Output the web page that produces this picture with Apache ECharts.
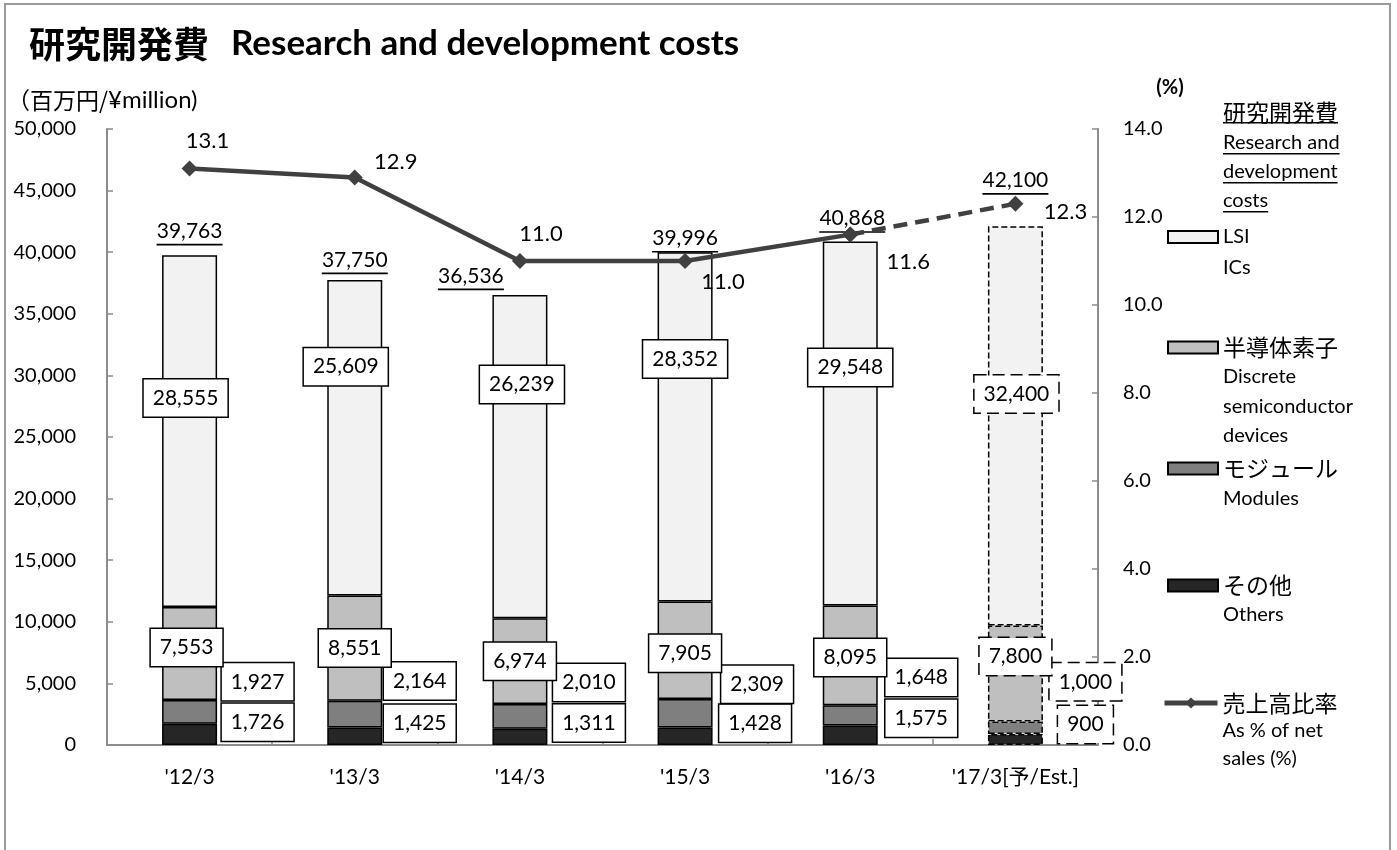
<!DOCTYPE html>
<html><head><meta charset="utf-8">
<script src="https://cdn.jsdelivr.net/npm/echarts@6/dist/echarts.min.js"></script>
<style>html,body{margin:0;padding:0;background:#fff}#c{width:1397px;height:850px}</style>
</head><body><div id="c"></div><script>
// ---- data ----
const categories = ["'12/3", "'13/3", "'14/3", "'15/3", "'16/3", "'17/3[予/Est.]"];
const lsi = [28555, 25609, 26239, 28352, 29548, 32400];
const discrete = [7553, 8551, 6974, 7905, 8095, 7800];
const modules = [1927, 2164, 2010, 2309, 1648, 1000];
const others = [1726, 1425, 1311, 1428, 1575, 900];
const totals = [39763, 37750, 36536, 39996, 40868, 42100];
const ratio = [13.1, 12.9, 11.0, 11.0, 11.6, 12.3];
const leftAxisTicks = { min: 0, max: 50000, interval: 5000 };
const rightAxisTicks = { min: 0, max: 14, interval: 2 };

// ---- styling ----
const LAT = "Lato, 'Noto Sans CJK JP', sans-serif";
const CJK = "'Noto Sans CJK JP', Lato, sans-serif";
const est = categories.length - 1;
const fmt = v => Number(v).toLocaleString('en-US');
const AXIS_COLOR = '#8c8c8c';
const measureCtx = document.createElement('canvas').getContext('2d');
function textWidth(t, font) { measureCtx.font = font; return measureCtx.measureText(t).width; }

function barSeries(name, values, color, offsets) {
  return {
    name: name, type: 'bar', stack: 'rd', barWidth: 55, barGap: '-100%', yAxisIndex: 0, z: 2,
    itemStyle: { color: color, borderColor: '#000', borderWidth: 1.5 },
    label: {
      show: true, position: 'inside', color: '#000', fontFamily: LAT, fontSize: 21,
      backgroundColor: '#fff', borderColor: '#000', borderWidth: 1.5,
      padding: [6, 9, 5, 9], lineHeight: 26, formatter: p => fmt(p.value)
    },
    data: values.map((v, i) => ({
      value: v,
      itemStyle: i === est ? { borderType: 'dashed' } : {},
      label: { offset: offsets[i], borderType: i === est ? 'dashed' : 'solid' }
    }))
  };
}

const lsiOff = [[-4, -33], [-9, -71], [2, -72], [0, -68], [0, -56], [1, -32]];
const discOff = [[-3, -6], [0, 0], [0, 0], [0, 3], [0, 2], [0, -17]];
const modOff = [[68, -30], [65, -33], [69, -34], [72, -29], [71, -38], [70, -46]];
const othOff = [[68, -12], [65, -13], [69, -14], [70, -13], [71, -17], [70, -15]];
const totOff = [[0, 0], [0, 4], [-49, 5], [0, 10], [2, 1], [0, -22]];
const ratioOff = [[18, -28], [41, -15], [21, -27], [38, 21], [58, 27], [50, 8]];

const solidRatio = ratio.map((v, i) => i < est ? v : null);
const dashedRatio = ratio.map((v, i) => i >= est - 1 ? v : null);

function legendFor(name, lines, yc, isLine, lh) {
  const n = lines.length;
  const l = {
    data: [name], orient: 'vertical', left: isLine ? 1162 : 1167, top: yc - 8 - (n - 2) * 1.5, padding: 0,
    itemWidth: isLine ? 53 : 50, itemHeight: isLine ? 14 : 12, itemGap: 0, selectedMode: false,
    formatter: () => lines.map(t => '{' + (/[^\x00-\x7F]/.test(t) ? 'c' : 'e') + '|' + t + '}').join('\n'),
    textStyle: {
      padding: [(n - 1) * lh, 0, 0, 0],
      rich: {
        c: { fontFamily: CJK, fontSize: 23, lineHeight: lh, color: '#000' },
        e: { fontFamily: LAT, fontSize: 20, lineHeight: lh, color: '#000' }
      }
    }
  };
  if (!isLine) l.icon = 'rect';
  else { l.lineStyle = { width: 5, color: '#404040' }; l.itemStyle = { color: '#404040' }; }
  return l;
}

const headerLines = [
  { t: '研究開発費', y: 112, f: CJK, s: 23 },
  { t: 'Research and', y: 143, f: LAT, s: 20 },
  { t: 'development', y: 172, f: LAT, s: 20 },
  { t: 'costs', y: 201, f: LAT, s: 20 }
];
const headerGraphics = [];
headerLines.forEach(h => {
  const font = h.s + 'px ' + h.f;
  headerGraphics.push({ type: 'text', x: 1223, y: h.y, style: { text: h.t, font: font, fill: '#000', verticalAlign: 'middle', align: 'left' } });
  headerGraphics.push({ type: 'rect', shape: { x: 1223, y: h.y + 10, width: textWidth(h.t, font), height: 1.6 }, style: { fill: '#000' } });
});

const chart = echarts.init(document.getElementById('c'), null, { renderer: 'canvas' });
chart.setOption({
  animation: false,
  backgroundColor: '#fff',
  title: {
    left: 24, top: 21,
    text: '{a|研究開発費}{b|Research and development costs}',
    textStyle: {
      rich: {
        a: { fontFamily: CJK, fontSize: 36, fontWeight: 'bold', color: '#000' },
        b: { fontFamily: LAT, fontSize: 35, fontWeight: 'bold', color: '#000', padding: [0, 0, 0, 22] }
      }
    }
  },
  grid: { left: 107, right: 299, top: 129, bottom: 105, containLabel: false, outerBoundsMode: 'none' },
  legend: [
    legendFor('LSI', ['LSI', 'ICs'], 235, false, 31),
    legendFor('半導体素子', ['半導体素子', 'Discrete', 'semiconductor', 'devices'], 347, false, 29.5),
    legendFor('モジュール', ['モジュール', 'Modules'], 465, false, 30),
    legendFor('その他', ['その他', 'Others'], 582, false, 29),
    legendFor('売上高比率', ['売上高比率', 'As % of net', 'sales (%)'], 701, true, 28)
  ],
  xAxis: {
    type: 'category', data: categories,
    axisLine: { show: true, lineStyle: { color: AXIS_COLOR, width: 2 } },
    axisTick: { show: true, inside: true, length: 6, alignWithLabel: false, lineStyle: { color: AXIS_COLOR, width: 1.5 } },
    axisLabel: { margin: 22, fontFamily: LAT, fontSize: 21, color: '#000', interval: 0 },
    splitLine: { show: false }
  },
  yAxis: [
    {
      type: 'value', min: leftAxisTicks.min, max: leftAxisTicks.max, interval: leftAxisTicks.interval,
      axisLine: { show: true, lineStyle: { color: AXIS_COLOR, width: 2 } },
      axisTick: { show: true, inside: true, length: 6, lineStyle: { color: AXIS_COLOR, width: 1.5 } },
      axisLabel: { margin: 31, fontFamily: LAT, fontSize: 20, color: '#000', formatter: v => fmt(v) },
      splitLine: { show: false }
    },
    {
      type: 'value', position: 'right', min: rightAxisTicks.min, max: rightAxisTicks.max, interval: rightAxisTicks.interval,
      axisLine: { show: true, lineStyle: { color: AXIS_COLOR, width: 2 } },
      axisTick: { show: true, inside: true, length: 6, lineStyle: { color: AXIS_COLOR, width: 1.5 } },
      axisLabel: { margin: 25, fontFamily: LAT, fontSize: 20, color: '#000', formatter: v => v.toFixed(1) },
      splitLine: { show: false }
    }
  ],
  series: [
    barSeries('その他', others, '#262626', othOff),
    barSeries('モジュール', modules, '#7f7f7f', modOff),
    barSeries('半導体素子', discrete, '#bfbfbf', discOff),
    barSeries('LSI', lsi, '#f2f2f2', lsiOff),
    {
      name: 'total', type: 'bar', barWidth: 55, barGap: '-100%', yAxisIndex: 0, z: 1, silent: true,
      itemStyle: { color: 'rgba(0,0,0,0)', borderWidth: 0 },
      label: {
        show: true, position: 'top', distance: 9,
        formatter: p => '{v|' + fmt(p.value) + '}\n{u| }',
        rich: {
          v: { fontFamily: LAT, fontSize: 21, color: '#000', lineHeight: 24, align: 'center' },
          u: { width: 66, height: 1.6, lineHeight: 3, fontSize: 1, backgroundColor: '#000', align: 'center' }
        }
      },
      data: totals.map((v, i) => ({ value: v, label: { offset: totOff[i] } }))
    },
    {
      name: '売上高比率', type: 'line', yAxisIndex: 1, z: 10,
      symbol: 'diamond', symbolSize: 16,
      lineStyle: { color: '#404040', width: 4.5 },
      itemStyle: { color: '#404040' },
      label: { show: true, position: 'inside', fontFamily: LAT, fontSize: 22, color: '#000', formatter: p => p.value.toFixed(1) },
      data: solidRatio.map((v, i) => ({ value: v, label: { offset: ratioOff[i] } }))
    },
    {
      name: '売上高比率(予)', type: 'line', yAxisIndex: 1, z: 10,
      symbol: 'diamond', symbolSize: 16,
      lineStyle: { color: '#404040', width: 4.5, type: [14, 8] },
      itemStyle: { color: '#404040' },
      label: { show: false, position: 'inside', fontFamily: LAT, fontSize: 22, color: '#000', formatter: p => p.value.toFixed(1) },
      data: dashedRatio.map((v, i) => ({ value: v, label: { show: i === est, offset: ratioOff[i] } }))
    }
  ],
  graphic: [
    { type: 'rect', z: -10, shape: { x: 5, y: 4, width: 1385, height: 900 }, style: { fill: 'none', stroke: '#9a9a9a', lineWidth: 2 } },
    {
      type: 'text', x: 7, y: 100,
      style: {
        text: '{a|（百万円/}{b|¥million)}', fill: '#000', verticalAlign: 'middle',
        rich: { a: { fontFamily: CJK, fontSize: 23, fill: '#000' }, b: { fontFamily: LAT, fontSize: 24, fill: '#000' } }
      }
    },
    { type: 'text', x: 1170, y: 88, style: { text: '(%)', font: 'bold 20px ' + LAT, fill: '#000', verticalAlign: 'middle', align: 'center' } }
  ].concat(headerGraphics)
});
</script></body></html>
